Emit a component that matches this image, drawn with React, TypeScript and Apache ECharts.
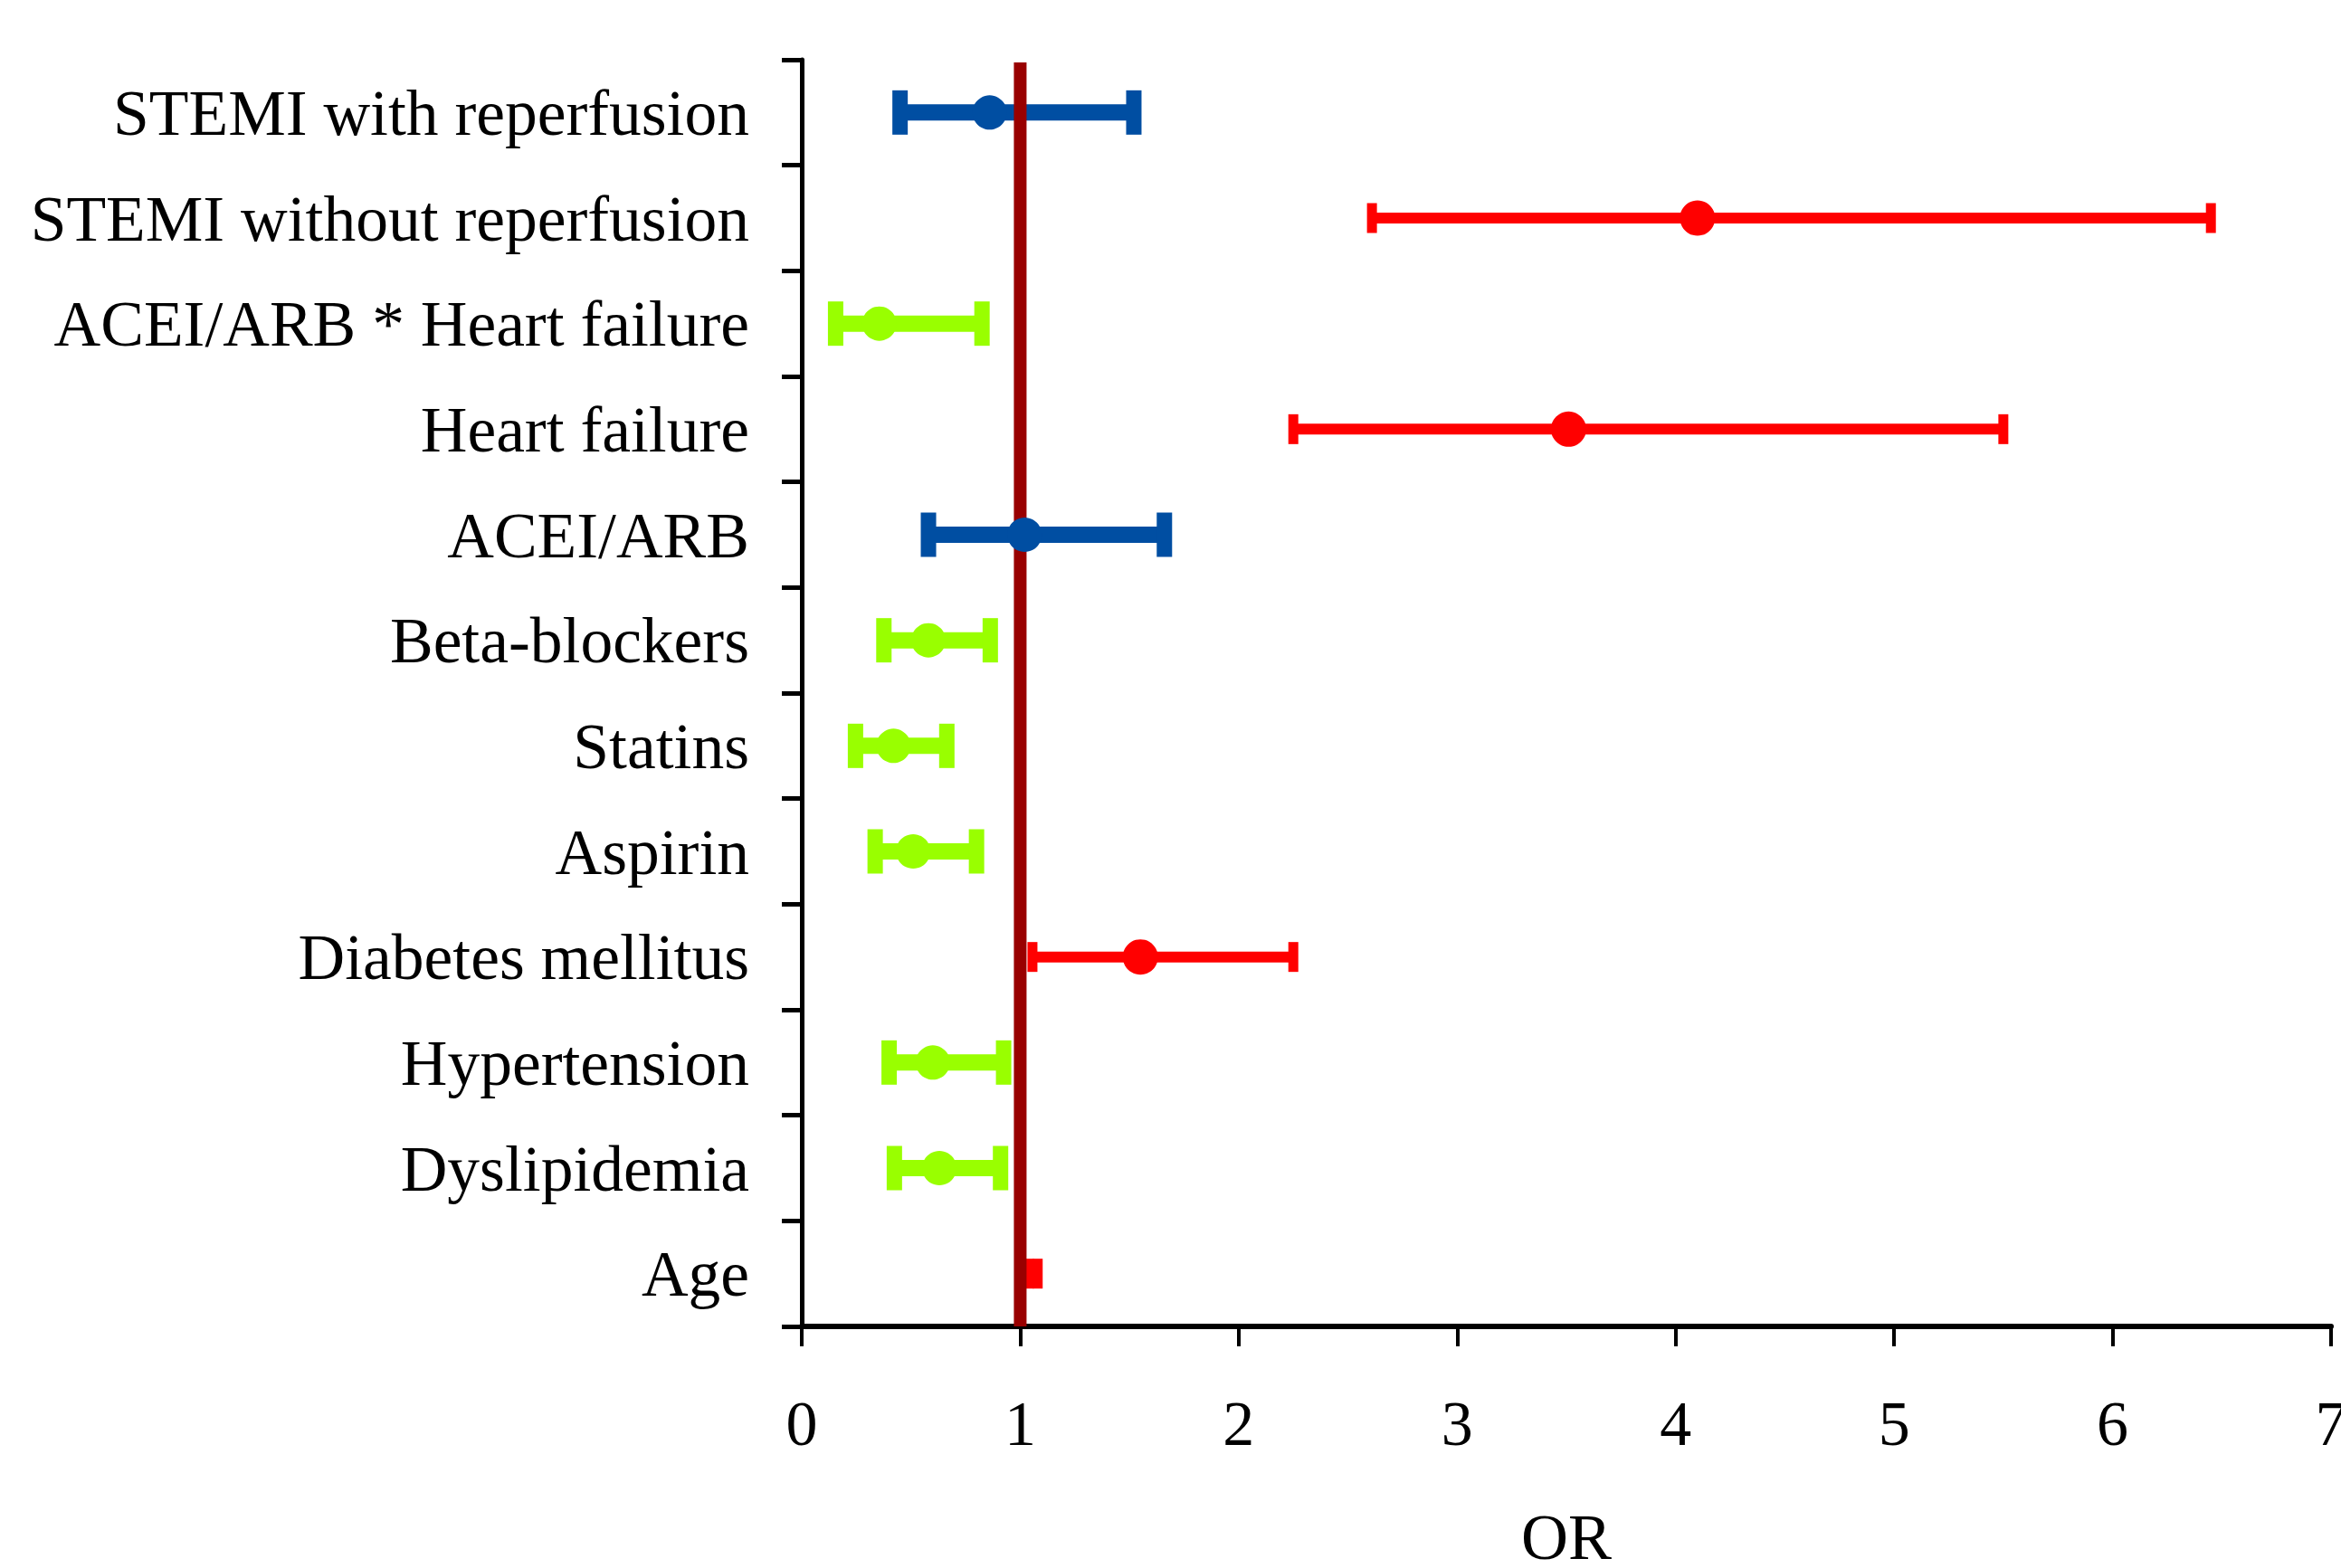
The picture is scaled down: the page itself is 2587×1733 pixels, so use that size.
import React, { useEffect, useRef } from "react";
import * as echarts from "echarts";

// ---- Data ----
const categories = [
  "STEMI with reperfusion",
  "STEMI without reperfusion",
  "ACEI/ARB * Heart failure",
  "Heart failure",
  "ACEI/ARB",
  "Beta-blockers",
  "Statins",
  "Aspirin",
  "Diabetes mellitus",
  "Hypertension",
  "Dyslipidemia",
  "Age",
];
const oddsRatio = [0.86, 4.1, 0.355, 3.51, 1.02, 0.58, 0.42, 0.51, 1.55, 0.6, 0.63, 1.06];
const ciLower = [0.45, 2.61, 0.155, 2.25, 0.58, 0.376, 0.246, 0.336, 1.056, 0.4, 0.424, 1.04];
const ciUpper = [1.52, 6.45, 0.825, 5.5, 1.66, 0.863, 0.664, 0.8, 2.25, 0.924, 0.91, 1.08];
// effect class: ns = not significant, risk = increased risk, protective = decreased risk
const effect = [
  "ns", "risk", "protective", "risk", "ns", "protective",
  "protective", "protective", "risk", "protective", "protective", "risk",
];
// the reference shows no point marker for these rows
const markerHidden = ["Age"];
const xTickValues = [0, 1, 2, 3, 4, 5, 6, 7];
const referenceOR = 1;
const xAxisName = "OR";

// ---- Styles ----
const FONT = "'Liberation Serif', 'Times New Roman', Times, serif";
const STYLE: Record<string, { color: string; bar: number; capW: number; capH: number; dot: number }> = {
  ns: { color: "#004EA2", bar: 18, capW: 17, capH: 49, dot: 38 },
  risk: { color: "#FF0000", bar: 12, capW: 11, capH: 33, dot: 39 },
  protective: { color: "#99FF00", bar: 18, capW: 17, capH: 49, dot: 38 },
};

export default function App() {
  const ref = useRef<HTMLDivElement>(null);

  useEffect(() => {
    document.body.style.margin = "0";
    if (!ref.current) return;
    const chart = echarts.init(ref.current, undefined, { renderer: "svg" });

    const errorData = categories.map((_, i) => [ciLower[i], ciUpper[i], i]);
    const dotData = categories
      .map((c, i) => ({ c, i }))
      .filter(({ c }) => !markerHidden.includes(c))
      .map(({ i }) => ({
        value: [oddsRatio[i], i],
        symbolSize: STYLE[effect[i]].dot,
        itemStyle: { color: STYLE[effect[i]].color, opacity: 1 },
      }));

    const option: any = {
      animation: false,
      backgroundColor: "#ffffff",
      grid: {
        left: 886,
        top: 66,
        width: 1690,
        height: 1400,
        containLabel: false,
        outerBoundsMode: "none",
      },
      xAxis: {
        type: "value",
        min: xTickValues[0],
        max: xTickValues[xTickValues.length - 1],
        interval: 1,
        splitLine: { show: false },
        axisLine: { show: true, lineStyle: { color: "#000", width: 6 } },
        axisTick: { show: true, length: 22, lineStyle: { color: "#000", width: 4 } },
        axisLabel: {
          color: "#000",
          fontSize: 70,
          fontFamily: FONT,
          margin: 72,
          showMaxLabel: true,
          showMinLabel: true,
        },
        name: xAxisName,
        nameLocation: "middle",
        nameGap: 197,
        nameTextStyle: { color: "#000", fontSize: 72, fontFamily: FONT },
      },
      yAxis: {
        type: "category",
        data: categories,
        inverse: true,
        boundaryGap: true,
        splitLine: { show: false },
        axisLine: { show: true, lineStyle: { color: "#000", width: 5 } },
        axisTick: { show: true, length: 22, lineStyle: { color: "#000", width: 5 } },
        axisLabel: {
          color: "#000",
          fontSize: 71.5,
          fontFamily: FONT,
          margin: 58,
          padding: [22, 0, 0, 0],
        },
      },
      series: [
        {
          type: "custom",
          name: "CI",
          z: 2,
          data: errorData,
          encode: { x: [0, 1], y: 2 },
          renderItem: (params: any, api: any) => {
            const st = STYLE[effect[params.dataIndex]];
            const lo = api.value(0);
            const hi = api.value(1);
            const cat = api.value(2);
            const p1 = api.coord([lo, cat]);
            const p2 = api.coord([hi, cat]);
            return {
              type: "group",
              children: [
                {
                  type: "rect",
                  shape: { x: p1[0], y: p1[1] - st.bar / 2, width: p2[0] - p1[0], height: st.bar },
                  style: { fill: st.color },
                },
                {
                  type: "rect",
                  shape: { x: p1[0] - st.capW / 2, y: p1[1] - st.capH / 2, width: st.capW, height: st.capH },
                  style: { fill: st.color },
                },
                {
                  type: "rect",
                  shape: { x: p2[0] - st.capW / 2, y: p2[1] - st.capH / 2, width: st.capW, height: st.capH },
                  style: { fill: st.color },
                },
              ],
            };
          },
        },
        {
          type: "custom",
          name: "reference",
          z: 3,
          data: [[referenceOR, 0]],
          encode: { x: 0, y: 1 },
          renderItem: (params: any, api: any) => {
            const cs = params.coordSys;
            const p = api.coord([api.value(0), 0]);
            const w = 14;
            return {
              type: "rect",
              shape: { x: p[0] - w / 2, y: cs.y + 3, width: w, height: cs.height - 3 },
              style: { fill: "#990000" },
            };
          },
        },
        {
          type: "scatter",
          name: "OR",
          z: 4,
          symbol: "circle",
          itemStyle: { opacity: 1 },
          data: dotData,
        },
      ],
    };

    chart.setOption(option);
    return () => chart.dispose();
  }, []);

  return (
    <div
      ref={ref}
      style={{ position: "absolute", left: 0, top: 0, width: 2587, height: 1733, background: "#fff" }}
    />
  );
}
